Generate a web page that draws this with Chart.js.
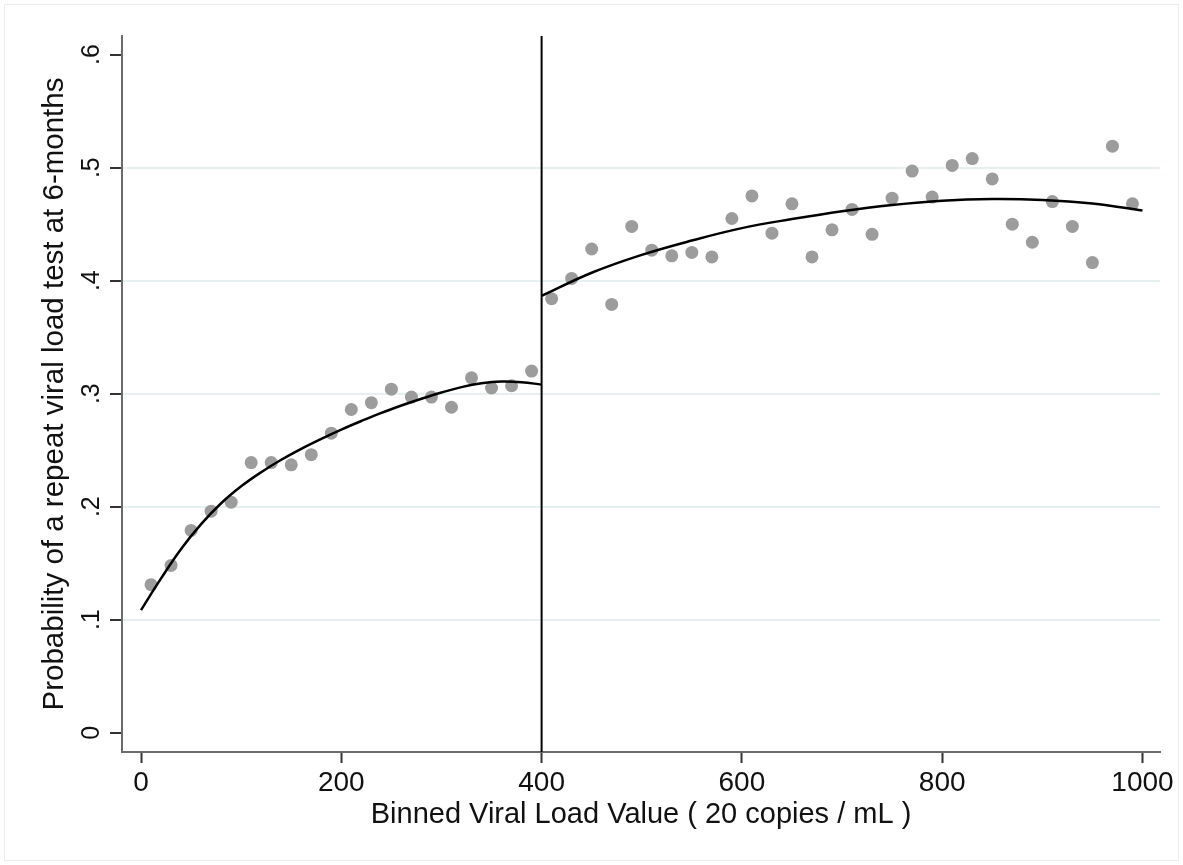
<!DOCTYPE html>
<html>
<head>
<meta charset="utf-8">
<script src="https://cdn.jsdelivr.net/npm/chart.js@4.4.1/dist/chart.umd.min.js"></script>
<style>
  html, body { margin: 0; padding: 0; background: #fff; }
  #wrap { width: 1183px; height: 865px; }
</style>
</head>
<body>
<div id="wrap"><canvas id="chart" width="1183" height="865"></canvas></div>
<script>
// binned viral load (bin midpoints) and observed repeat-test probability
const binMid = [10, 30, 50, 70, 90, 110, 130, 150, 170, 190,
                210, 230, 250, 270, 290, 310, 330, 350, 370, 390,
                410, 430, 450, 470, 490, 510, 530, 550, 570, 590,
                610, 630, 650, 670, 690, 710, 730, 750, 770, 790,
                810, 830, 850, 870, 890, 910, 930, 950, 970, 990];
const repeatProb = [0.131, 0.148, 0.179, 0.196, 0.204, 0.239, 0.239, 0.237, 0.246, 0.265,
                    0.286, 0.292, 0.304, 0.297, 0.297, 0.288, 0.314, 0.305, 0.307, 0.320,
                    0.384, 0.402, 0.428, 0.379, 0.448, 0.427, 0.422, 0.425, 0.421, 0.455,
                    0.475, 0.442, 0.468, 0.421, 0.445, 0.463, 0.441, 0.473, 0.497, 0.474,
                    0.502, 0.508, 0.490, 0.450, 0.434, 0.470, 0.448, 0.416, 0.519, 0.468];

// fitted curves
const fitLeftX = [0, 20, 40, 60, 80, 100, 120, 140, 160, 180, 200,
                  220, 240, 260, 280, 300, 320, 340, 360, 380, 400];
const fitLeftY = [0.1085, 0.1365, 0.1625, 0.1845, 0.2030, 0.2180, 0.2305, 0.2415, 0.2512, 0.2600, 0.2682,
                  0.2758, 0.2830, 0.2895, 0.2955, 0.3010, 0.3058, 0.3092, 0.3108, 0.3102, 0.3080];
const fitRightX = [400, 450, 500, 550, 600, 650, 700, 750, 800, 850, 900, 950, 1000];
const fitRightY = [0.3865, 0.407, 0.4228, 0.4355, 0.4465, 0.4545, 0.4615, 0.4670, 0.4708, 0.4722, 0.4714, 0.4682, 0.462];

const cutoff = 400;
const xTicks = [0, 200, 400, 600, 800, 1000];
const yTicks = [0, 0.1, 0.2, 0.3, 0.4, 0.5, 0.6];

const FONT = '"Liberation Sans", Arial, Helvetica, sans-serif';

function fmtY(v) {
    if (v === 0) return '0';
    return v.toFixed(1).replace(/^0/, '');
}

function toPoints(xs, ys) {
    return xs.map((x, i) => ({ x: x, y: ys[i] }));
}

// y tick labels are rotated like the original (Stata style)
const yTickLabels = {
    id: 'yTickLabels',
    afterDraw(chart) {
        const ctx = chart.ctx;
        const ys = chart.scales.y;
        ctx.save();
        ctx.font = '25px ' + FONT;
        ctx.fillStyle = '#111';
        ctx.textAlign = 'center';
        ctx.textBaseline = 'middle';
        yTicks.forEach(v => {
            const py = ys.getPixelForValue(v);
            ctx.save();
            ctx.translate(92, py);
            ctx.rotate(-Math.PI / 2);
            ctx.fillText(fmtY(v), 0, 0);
            ctx.restore();
        });
        ctx.restore();
    }
};

// vertical line at the threshold
const cutoffLine = {
    id: 'cutoffLine',
    beforeDatasetsDraw(chart) {
        const ctx = chart.ctx;
        const area = chart.chartArea;
        const px = chart.scales.x.getPixelForValue(cutoff);
        ctx.save();
        ctx.strokeStyle = '#000';
        ctx.lineWidth = 2;
        ctx.beginPath();
        ctx.moveTo(px, area.top);
        ctx.lineTo(px, area.bottom);
        ctx.stroke();
        ctx.restore();
    }
};

// faint outer frame
const outerFrame = {
    id: 'outerFrame',
    beforeDraw(chart) {
        const ctx = chart.ctx;
        ctx.save();
        ctx.fillStyle = '#fff';
        ctx.fillRect(0, 0, chart.width, chart.height);
        ctx.strokeStyle = '#ececec';
        ctx.lineWidth = 1;
        ctx.strokeRect(4.5, 4.5, chart.width - 9, chart.height - 9);
        ctx.restore();
    }
};

new Chart(document.getElementById('chart'), {
    type: 'scatter',
    data: {
        datasets: [
            {
                label: 'Fit below 400',
                data: toPoints(fitLeftX, fitLeftY),
                showLine: true,
                borderColor: '#000',
                borderWidth: 2.5,
                pointRadius: 0,
                tension: 0.4,
                fill: false
            },
            {
                label: 'Fit above 400',
                data: toPoints(fitRightX, fitRightY),
                showLine: true,
                borderColor: '#000',
                borderWidth: 2.5,
                pointRadius: 0,
                tension: 0.4,
                fill: false
            },
            {
                label: 'Binned probability',
                data: toPoints(binMid, repeatProb),
                backgroundColor: '#9c9c9c',
                borderWidth: 0,
                pointRadius: 6.5,
                pointHoverRadius: 6.5
            }
        ]
    },
    options: {
        responsive: false,
        animation: false,
        layout: { padding: { top: 36, right: 23, left: 0, bottom: 0 } },
        plugins: {
            legend: { display: false },
            tooltip: { enabled: false }
        },
        scales: {
            x: {
                type: 'linear',
                min: -19,
                max: 1017.5,
                afterBuildTicks: (scale) => { scale.ticks = xTicks.map(v => ({ value: v })); },
                afterFit: (scale) => { scale.height = 113; },
                border: { color: '#6b6b6b', width: 2 },
                grid: {
                    drawOnChartArea: false,
                    drawTicks: true,
                    tickLength: 11,
                    tickColor: '#333',
                    tickWidth: 2
                },
                ticks: {
                    callback: (v) => String(v),
                    color: '#111',
                    padding: 3,
                    maxRotation: 0,
                    font: { family: FONT, size: 28 }
                },
                title: {
                    display: true,
                    text: 'Binned Viral Load Value ( 20 copies / mL )',
                    color: '#111',
                    font: { family: FONT, size: 29 },
                    padding: { top: 0, bottom: 32.6 }
                }
            },
            y: {
                type: 'linear',
                min: -0.0171,
                max: 0.6165,
                afterBuildTicks: (scale) => { scale.ticks = yTicks.map(v => ({ value: v })); },
                afterFit: (scale) => { scale.width = 122; },
                border: { color: '#6b6b6b', width: 2 },
                grid: {
                    color: (c) => (c.tick && c.tick.value > 0.05 && c.tick.value < 0.55) ? '#e7f0f1' : 'rgba(0,0,0,0)',
                    lineWidth: 2,
                    drawTicks: true,
                    tickLength: 12,
                    tickColor: '#333',
                    tickWidth: 2
                },
                ticks: { display: false },
                title: {
                    display: true,
                    text: 'Probability of a repeat viral load test at 6-months',
                    color: '#111',
                    font: { family: FONT, size: 29.5 },
                    padding: { top: 37.3, bottom: 0 }
                }
            }
        }
    },
    plugins: [outerFrame, cutoffLine, yTickLabels]
});
</script>
</body>
</html>
